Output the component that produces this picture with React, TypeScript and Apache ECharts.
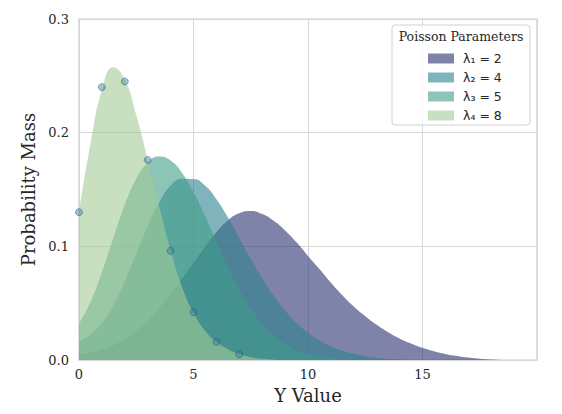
import React, { useEffect, useRef } from 'react';
import * as echarts from 'echarts';

// ---- data ----
const seriesNames = ['λ₁ = 2', 'λ₂ = 4', 'λ₃ = 5', 'λ₄ = 8'];

const lambda1X = [0, 0.5, 1, 1.5, 2, 2.5, 3, 3.5, 4, 4.5, 5, 5.5, 6, 6.5, 7, 7.5, 8, 8.5, 9, 9.5, 10, 10.5, 11, 11.5, 12, 12.5, 13, 13.5, 14, 14.5, 15, 15.5, 16, 16.5, 17, 17.5, 18, 18.5];
const lambda1Y = [0.005, 0.0065, 0.009, 0.013, 0.0185, 0.0255, 0.0345, 0.0455, 0.058, 0.0715, 0.0855, 0.0995, 0.1125, 0.1228, 0.129, 0.131, 0.1284, 0.1225, 0.114, 0.1035, 0.0915, 0.080, 0.068, 0.057, 0.047, 0.0385, 0.031, 0.0245, 0.019, 0.0145, 0.0107, 0.0077, 0.0053, 0.0035, 0.0021, 0.0011, 0.0004, 0];

const lambda2X = [0, 0.5, 1, 1.5, 2, 2.5, 3, 3.5, 4, 4.5, 5, 5.5, 6, 6.5, 7, 7.5, 8, 8.5, 9, 9.5, 10, 10.5, 11, 11.5, 12, 12.5, 13, 13.5, 14, 14.5];
const lambda2Y = [0.016, 0.0225, 0.0325, 0.048, 0.0695, 0.0935, 0.1175, 0.1385, 0.1535, 0.1595, 0.1592, 0.1535, 0.1415, 0.1255, 0.1072, 0.089, 0.0718, 0.0566, 0.0436, 0.0327, 0.024, 0.0172, 0.012, 0.0082, 0.0054, 0.0034, 0.002, 0.001, 0.0004, 0];

const lambda3X = [0, 0.5, 1, 1.5, 2, 2.5, 3, 3.5, 4, 4.5, 5, 5.5, 6, 6.5, 7, 7.5, 8, 8.5, 9, 9.5, 10, 10.5, 11, 11.5, 12, 12.5];
const lambda3Y = [0.032, 0.051, 0.0775, 0.1075, 0.1365, 0.1595, 0.1735, 0.179, 0.1755, 0.1645, 0.1475, 0.127, 0.1045, 0.0825, 0.0625, 0.0455, 0.032, 0.0215, 0.014, 0.0088, 0.0053, 0.003, 0.0016, 0.0007, 0.0002, 0];

const lambda4X = [0, 0.5, 1, 1.5, 2, 2.5, 3, 3.5, 4, 4.5, 5, 5.5, 6, 6.5, 7, 7.5, 8, 8.5, 9];
const lambda4Y = [0.130, 0.190, 0.2375, 0.2575, 0.2465, 0.2155, 0.1765, 0.1355, 0.0965, 0.0645, 0.0415, 0.026, 0.016, 0.0095, 0.0052, 0.0025, 0.001, 0.0003, 0];

const pointX = [0, 1, 2, 3, 4, 5, 6, 7];
const pointY = [0.130, 0.240, 0.245, 0.176, 0.096, 0.042, 0.016, 0.005];

const xsList = [lambda1X, lambda2X, lambda3X, lambda4X];
const ysList = [lambda1Y, lambda2Y, lambda3Y, lambda4Y];

// ---- styles ----
const seriesColors = [
  'rgba(44,48,112,0.6)',
  'rgba(43,130,143,0.6)',
  'rgba(63,157,137,0.6)',
  'rgba(163,203,150,0.6)',
];
const textColor = '#262626';
const gridColor = '#d6d6d6';

export default function App() {
  const ref = useRef<HTMLDivElement>(null);

  useEffect(() => {
    document.body.style.margin = '0';
    if (!ref.current) return;
    const chart = echarts.init(ref.current, undefined, { renderer: 'svg' });

    const areaSeries = seriesNames.map((name, i) => ({
      type: 'line',
      name,
      data: xsList[i].map((x, j) => [x, ysList[i][j]]),
      smooth: 0.5,
      showSymbol: false,
      symbol: 'none',
      lineStyle: { width: 0, color: seriesColors[i] },
      itemStyle: { color: seriesColors[i] },
      areaStyle: { color: seriesColors[i], opacity: 1 },
      z: 2,
    }));

    const option = {
      animation: false,
      backgroundColor: '#ffffff',
      grid: {
        left: 79,
        right: 25,
        top: 19,
        bottom: 54,
        show: true,
        borderColor: '#cccccc',
        borderWidth: 1.25,
        backgroundColor: 'transparent',
      },
      xAxis: {
        type: 'value',
        min: 0,
        max: 20,
        interval: 5,
        name: 'Y Value',
        nameLocation: 'middle',
        nameGap: 26,
        nameTextStyle: { fontFamily: 'DejaVu Serif', fontSize: 18, color: textColor },
        axisLine: { show: false },
        axisTick: { show: false },
        axisLabel: {
          fontFamily: 'DejaVu Serif',
          fontSize: 13,
          color: textColor,
          margin: 8,
          formatter: (v: number) => (v === 20 ? '' : String(v)),
        },
        splitLine: { show: true, lineStyle: { color: gridColor, width: 1 } },
      },
      yAxis: {
        type: 'value',
        min: 0,
        max: 0.3,
        interval: 0.1,
        name: 'Probability Mass',
        nameLocation: 'middle',
        nameGap: 36,
        nameTextStyle: { fontFamily: 'DejaVu Serif', fontSize: 18, color: textColor },
        axisLine: { show: false },
        axisTick: { show: false },
        axisLabel: {
          fontFamily: 'DejaVu Serif',
          fontSize: 13,
          color: textColor,
          margin: 10,
          formatter: (v: number) => v.toFixed(1),
        },
        splitLine: { show: true, lineStyle: { color: gridColor, width: 1 } },
      },
      legend: {
        orient: 'vertical',
        left: 423,
        top: 47,
        itemWidth: 26,
        itemHeight: 10,
        itemGap: 6,
        selectedMode: false,
        z: 20,
        textStyle: {
          fontFamily: 'DejaVu Sans',
          fontSize: 12.5,
          color: textColor,
          padding: [0, 0, 0, 4],
        },
        data: seriesNames.map((n, i) => ({
          name: n,
          icon: 'rect',
          itemStyle: { color: seriesColors[i], borderWidth: 0 },
        })),
      },
      graphic: [
        {
          type: 'rect',
          z: 10,
          shape: { x: 392, y: 25, width: 138, height: 100, r: 3 },
          style: { fill: 'rgba(255,255,255,0.8)', stroke: '#d0d0d0', lineWidth: 1 },
        },
        {
          type: 'text',
          z: 21,
          x: 461,
          y: 36,
          style: {
            text: 'Poisson Parameters',
            fontFamily: 'DejaVu Serif',
            fontSize: 12.5,
            fill: textColor,
            align: 'center',
            verticalAlign: 'middle',
            textAlign: 'center',
            textVerticalAlign: 'middle',
          },
        },
      ],
      series: [
        ...areaSeries,
        {
          type: 'scatter',
          name: 'points',
          data: pointX.map((x, j) => [x, pointY[j]]),
          symbolSize: 7,
          itemStyle: {
            color: 'rgba(60,120,155,0.55)',
            borderColor: 'rgba(40,90,125,0.6)',
            borderWidth: 1,
          },
          z: 5,
        },
      ],
    };

    chart.setOption(option as any);
    return () => chart.dispose();
  }, []);

  return <div ref={ref} style={{ width: 562, height: 414 }} />;
}
